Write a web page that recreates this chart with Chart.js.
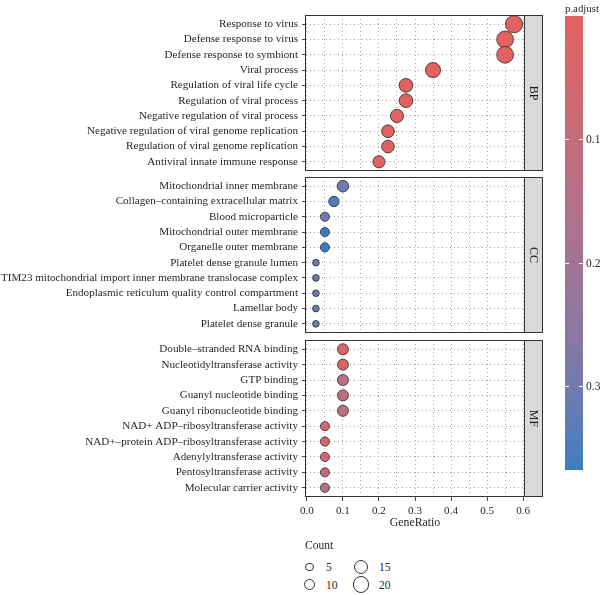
<!DOCTYPE html>
<html>
<head>
<meta charset="utf-8">
<script src="https://cdn.jsdelivr.net/npm/chart.js@4.4.0/dist/chart.umd.min.js"></script>
<style>
    body { margin: 0; background: #fff; }
    #wrap { position: relative; width: 600px; height: 595px; font-family: "Liberation Serif", serif; color: #262626; }
    canvas { position: absolute; left: 0; }
    .txt { position: absolute; font-size: 11.5px; white-space: nowrap; line-height: 12px; }
    .key { position: absolute; border: 1px solid #333; border-radius: 50%; box-sizing: border-box; }
</style>
</head>
<body>
<div id="wrap">
    <canvas id="bp" width="600" height="185" style="top:0"></canvas>
    <canvas id="cc" width="600" height="184" style="top:163px"></canvas>
    <canvas id="mf" width="600" height="211" style="top:326px"></canvas>
</div>
<script>
// ---- data ----
const bpTerms = ['Response to virus', 'Defense response to virus', 'Defense response to symbiont', 'Viral process',
    'Regulation of viral life cycle', 'Regulation of viral process', 'Negative regulation of viral process',
    'Negative regulation of viral genome replication', 'Regulation of viral genome replication', 'Antiviral innate immune response'];
const bpRatio = [0.575, 0.55, 0.55, 0.35, 0.275, 0.275, 0.25, 0.225, 0.225, 0.2];
const bpCount = [23, 22, 22, 18, 15, 15, 14, 13, 13, 12];
const bpPadj = [0.0001, 0.0001, 0.0001, 0.002, 0.003, 0.003, 0.004, 0.004, 0.004, 0.005];

const ccTerms = ['Mitochondrial inner membrane', 'Collagen\u2013containing extracellular matrix', 'Blood microparticle',
    'Mitochondrial outer membrane', 'Organelle outer membrane', 'Platelet dense granule lumen',
    'TIM23 mitochondrial import inner membrane translocase complex', 'Endoplasmic reticulum quality control compartment',
    'Lamellar body', 'Platelet dense granule'];
const ccRatio = [0.1, 0.075, 0.05, 0.05, 0.05, 0.025, 0.025, 0.025, 0.025, 0.025];
const ccCount = [11, 9, 7, 7, 7, 4, 4, 4, 4, 4];
const ccPadj = [0.30, 0.35, 0.30, 0.368, 0.368, 0.31, 0.31, 0.31, 0.31, 0.31];

const mfTerms = ['Double\u2013stranded RNA binding', 'Nucleotidyltransferase activity', 'GTP binding',
    'Guanyl nucleotide binding', 'Guanyl ribonucleotide binding', 'NAD+ ADP\u2013ribosyltransferase activity',
    'NAD+\u2013protein ADP\u2013ribosyltransferase activity', 'Adenylyltransferase activity',
    'Pentosyltransferase activity', 'Molecular carrier activity'];
const mfRatio = [0.1, 0.1, 0.1, 0.1, 0.1, 0.05, 0.05, 0.05, 0.05, 0.05];
const mfCount = [10, 10, 10, 10, 10, 7, 7, 7, 7, 7];
const mfPadj = [0.04, 0.04, 0.13, 0.13, 0.13, 0.06, 0.06, 0.06, 0.09, 0.15];

const xTicks = [0, 0.1, 0.2, 0.3, 0.4, 0.5, 0.6];
const colorTicks = [0.1, 0.2, 0.3];
const legendCounts = [5, 10, 15, 20];

// ---- colour + size scales ----
const allPadj = [...bpPadj, ...ccPadj, ...mfPadj];
const pMin = Math.min(...allPadj), pMax = Math.max(...allPadj);
const lowCol = '#E2625F', highCol = '#3A7EC1';

function toLab(hex) {
    const [r, g, b] = [1, 3, 5].map(i => parseInt(hex.substr(i, 2), 16) / 255)
        .map(c => c <= 0.04045 ? c / 12.92 : Math.pow((c + 0.055) / 1.055, 2.4));
    const x = (r * 0.4124 + g * 0.3576 + b * 0.1805) / 0.95047;
    const y = r * 0.2126 + g * 0.7152 + b * 0.0722;
    const z = (r * 0.0193 + g * 0.1192 + b * 0.9505) / 1.08883;
    const f = t => t > 0.008856 ? Math.cbrt(t) : 7.787 * t + 16 / 116;
    return [116 * f(y) - 16, 500 * (f(x) - f(y)), 200 * (f(y) - f(z))];
}
function fromLab([L, a, bb]) {
    const fy = (L + 16) / 116, fx = fy + a / 500, fz = fy - bb / 200;
    const inv = t => t * t * t > 0.008856 ? t * t * t : (t - 16 / 116) / 7.787;
    const x = inv(fx) * 0.95047, y = inv(fy), z = inv(fz) * 1.08883;
    const rgb = [x * 3.2406 - y * 1.5372 - z * 0.4986, -x * 0.9689 + y * 1.8758 + z * 0.0415, x * 0.0557 - y * 0.2040 + z * 1.0570];
    return 'rgb(' + rgb.map(c => {
        c = c <= 0.0031308 ? 12.92 * c : 1.055 * Math.pow(c, 1 / 2.4) - 0.055;
        return Math.round(Math.max(0, Math.min(1, c)) * 255);
    }).join(',') + ')';
}
const labLow = toLab(lowCol), labHigh = toLab(highCol);
function pColor(p) {
    const t = Math.max(0, Math.min(1, (p - pMin) / (pMax - pMin)));
    return fromLab(labLow.map((v, i) => v + (labHigh[i] - v) * t));
}
const diam = c => 3.75 * Math.sqrt(c);

// ---- panel frame + facet strip ----
const strip = {
    id: 'strip',
    afterDraw(chart, args, opts) {
        const {ctx, chartArea: a} = chart;
        ctx.save();
        ctx.lineWidth = 1;
        ctx.strokeStyle = '#333';
        ctx.strokeRect(Math.round(a.left) - 0.5, Math.round(a.top) + 0.5, Math.round(a.right - a.left) + 1, Math.round(a.bottom - a.top) - 1);
        ctx.fillStyle = '#d9d9d9';
        ctx.fillRect(Math.round(a.right) + 0.5, Math.round(a.top) + 0.5, 18, Math.round(a.bottom - a.top) - 1);
        ctx.strokeRect(Math.round(a.right) + 0.5, Math.round(a.top) + 0.5, 18, Math.round(a.bottom - a.top) - 1);
        ctx.translate(a.right + 9.5, (a.top + a.bottom) / 2);
        ctx.rotate(Math.PI / 2);
        ctx.fillStyle = '#1a1a1a';
        ctx.font = '12px "Liberation Serif"';
        ctx.textAlign = 'center';
        ctx.textBaseline = 'middle';
        ctx.fillText(opts.text, 0, 0);
        ctx.restore();
    }
};

const font = {family: '"Liberation Serif", serif', size: 11.1};
const gridCol = '#a6a6a6';

function makePanel(id, name, terms, ratio, count, padj, showX) {
    new Chart(document.getElementById(id), {
        type: 'bubble',
        data: {
            datasets: [{
                data: ratio.map((x, i) => ({x, y: i, r: diam(count[i]) / 2 - 0.4})),
                backgroundColor: padj.map(pColor),
                borderColor: '#2a2a2a',
                borderWidth: 0.8
            }]
        },
        options: {
            responsive: false,
            animation: false,
            devicePixelRatio: 1,
            events: [],
            layout: {padding: {top: id === 'bp' ? 15 : 14, right: 76, bottom: showX ? 0 : 14, left: 0}},
            plugins: {legend: {display: false}, tooltip: {enabled: false}, strip: {text: name}},
            scales: {
                x: {
                    type: 'linear',
                    min: -0.0025,
                    max: 0.6025,
                    afterFit: s => { s.height = showX ? 40 : 0; },
                    ticks: {
                        stepSize: 0.05,
                        includeBounds: false,
                        autoSkip: false,
                        maxRotation: 0,
                        display: showX,
                        padding: 3,
                        color: '#262626',
                        font,
                        callback: v => xTicks.some(t => Math.abs(t - v) < 1e-6) ? v.toFixed(1) : ''
                    },
                    grid: {
                        color: gridCol,
                        drawTicks: showX,
                        tickLength: 4,
                        tickColor: ctx => ctx.tick && xTicks.some(t => Math.abs(t - ctx.tick.value) < 1e-6) ? '#444' : 'rgba(0,0,0,0)'
                    },
                    border: {display: false, dash: [1, 3]},
                    title: {display: showX, text: 'GeneRatio', color: '#262626', font: {family: font.family, size: 11.8}, padding: {top: 0, bottom: 7}}
                },
                y: {
                    type: 'linear',
                    reverse: true,
                    min: -0.6,
                    max: terms.length - 0.4,
                    afterFit: s => { s.width = 306; },
                    ticks: {
                        stepSize: 1,
                        includeBounds: false,
                        autoSkip: false,
                        padding: 4,
                        color: '#262626',
                        font,
                        callback: v => Number.isInteger(v) && terms[v] !== undefined ? terms[v] : null
                    },
                    grid: {color: gridCol, tickLength: 4, tickColor: '#444'},
                    border: {display: false, dash: [1, 3]}
                }
            }
        },
        plugins: [strip]
    });
}

makePanel('bp', 'BP', bpTerms, bpRatio, bpCount, bpPadj, false);
makePanel('cc', 'CC', ccTerms, ccRatio, ccCount, ccPadj, false);
makePanel('mf', 'MF', mfTerms, mfRatio, mfCount, mfPadj, true);

// ---- colour bar legend ----
const wrap = document.getElementById('wrap');
function addText(text, left, top, extra) {
    const d = document.createElement('div');
    d.className = 'txt';
    d.textContent = text;
    d.style.left = left + 'px';
    d.style.top = top + 'px';
    if (extra) Object.assign(d.style, extra);
    wrap.appendChild(d);
    return d;
}
const barTop = 16, barH = 454, barLeft = 565, barW = 18;
addText('p.adjust', barLeft, 2, {fontSize: '10.8px'});
const bar = document.createElement('div');
const stops = [];
for (let i = 0; i <= 20; i++) stops.push(pColor(pMin + (pMax - pMin) * i / 20) + ' ' + (i * 5) + '%');
Object.assign(bar.style, {position: 'absolute', left: barLeft + 'px', top: barTop + 'px', width: barW + 'px', height: barH + 'px',
    background: 'linear-gradient(to bottom, ' + stops.join(',') + ')'});
wrap.appendChild(bar);
colorTicks.forEach(p => {
    const y = barTop + (p - pMin) / (pMax - pMin) * barH;
    [0, barW - 4].forEach(off => {
        const t = document.createElement('div');
        Object.assign(t.style, {position: 'absolute', left: (barLeft + off) + 'px', top: Math.round(y) + 'px', width: '4px', height: '1px', background: '#fff'});
        wrap.appendChild(t);
    });
    addText(p.toFixed(1), barLeft + barW + 3, Math.round(y) - 6);
});

// ---- size legend ----
addText('Count', 305, 539);
const keyPos = [[309.5, 567], [309.5, 584.5], [361, 567], [361, 584.5]];
legendCounts.forEach((c, i) => {
    const d = diam(c);
    const k = document.createElement('div');
    k.className = 'key';
    Object.assign(k.style, {left: (keyPos[i][0] - d / 2) + 'px', top: (keyPos[i][1] - d / 2) + 'px', width: d + 'px', height: d + 'px'});
    wrap.appendChild(k);
    addText(String(c), i < 2 ? 326 : 379, keyPos[i][1] - 6);
});
</script>
</body>
</html>
